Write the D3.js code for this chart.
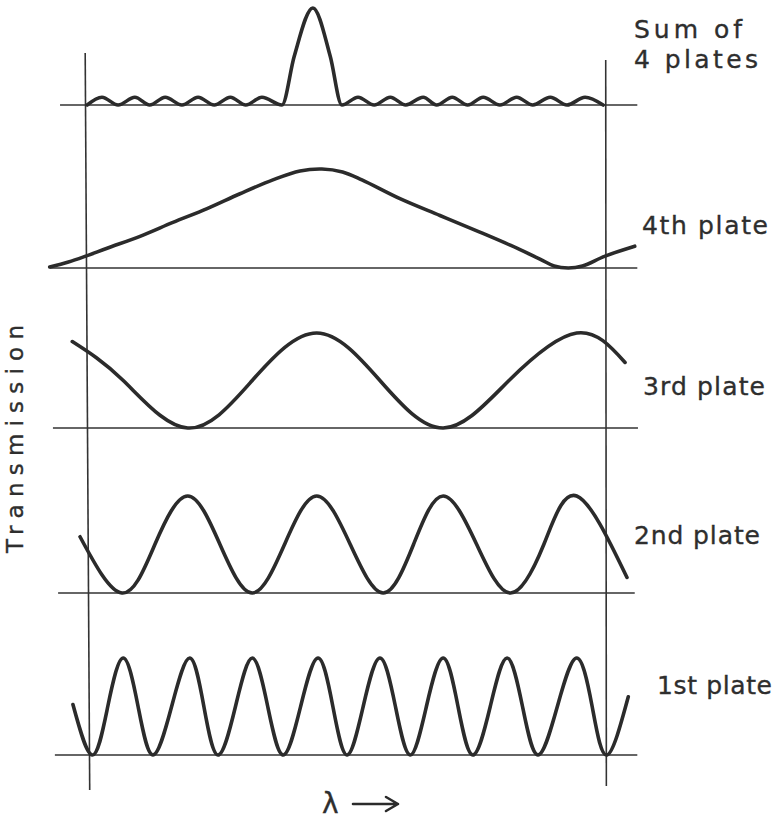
<!DOCTYPE html>
<html>
<head>
<meta charset="utf-8">
<script src="https://cdn.jsdelivr.net/npm/d3@7"></script>
<style>
  html, body { margin: 0; padding: 0; background: #ffffff; }
  svg { display: block; }
  text { font-family: "DejaVu Sans", "Noto Sans", sans-serif; fill: #2e2e2e; stroke: #2e2e2e; stroke-width: 0.35; }
</style>
</head>
<body>
<svg id="chart" width="784" height="823"></svg>
<script>
// ---------------- data (λ in units of the 1st-plate period, T = relative transmission) -------------
const panelNames = ["Sum of 4 plates", "4th plate", "3rd plate", "2nd plate", "1st plate"];
const yAxisLabel = "Transmission";
const xAxisLabel = "λ";

const sumOfPlates = [
  [-0.06, 0], [0.17, 0.08], [0.42, 0], [0.68, 0.08], [0.91, 0], [1.15, 0.08], [1.41, 0],
  [1.66, 0.08], [1.91, 0], [2.16, 0.08], [2.40, 0], [2.65, 0.08], [2.96, 0],
  [3.15, 0.5], [3.44, 1.0], [3.71, 0.5], [3.89, 0],
  [4.14, 0.08], [4.39, 0], [4.64, 0.08], [4.88, 0], [5.15, 0.08], [5.36, 0], [5.60, 0.08],
  [5.84, 0], [6.08, 0.08], [6.34, 0], [6.60, 0.08], [6.85, 0], [7.12, 0.08], [7.38, 0],
  [7.66, 0.08], [7.94, 0]
];

const plate4 = [
  [-0.64, 0.01], [-0.35, 0.06], [-0.08, 0.12], [0.25, 0.20], [0.76, 0.32], [1.27, 0.46],
  [1.80, 0.60], [2.31, 0.75], [2.82, 0.89], [3.24, 0.98], [3.58, 1.0], [3.90, 0.97],
  [4.20, 0.89], [4.79, 0.70], [5.41, 0.53], [6.00, 0.37], [6.50, 0.23], [6.96, 0.09],
  [7.18, 0.02], [7.40, 0.0], [7.62, 0.02], [7.97, 0.12], [8.43, 0.22]
];

const plate3 = [
  [-0.29, 0.91], [0.5, 0.5], [1.5, 0], [2.5, 0.5], [3.5, 1.0],
  [4.48, 0.5], [5.46, 0], [6.48, 0.5], [7.53, 1.0], [8.28, 0.69]
];

const plate2 = [
  [-0.17, 0.58], [0.48, 0], [0.99, 0.5], [1.5, 1.0], [2.0, 0.5], [2.5, 0],
  [3.0, 0.5], [3.5, 1.0], [4.02, 0.5], [4.53, 0], [5.0, 0.5], [5.46, 1.0], [5.98, 0.5],
  [6.5, 0], [7.02, 0.5], [7.53, 1.0], [8.31, 0.16]
];

const plate1 = [
  [-0.28, 0.52], [0.02, 0], [0.26, 0.5], [0.5, 1], [0.73, 0.5], [0.96, 0], [1.25, 0.5], [1.53, 1],
  [1.75, 0.5], [1.97, 0], [2.24, 0.5], [2.5, 1], [2.74, 0.5], [2.98, 0], [3.25, 0.5], [3.52, 1],
  [3.75, 0.5], [3.97, 0], [4.22, 0.5], [4.48, 1], [4.72, 0.5], [4.95, 0], [5.2, 0.5], [5.46, 1],
  [5.69, 0.5], [5.92, 0], [6.19, 0.5], [6.45, 1], [6.69, 0.5], [6.93, 0], [7.23, 0.5], [7.53, 1],
  [7.77, 0.5], [8.0, 0], [8.33, 0.6]
];

const seriesData = [sumOfPlates, plate4, plate3, plate2, plate1];

// ---------------- layout (positions / styles) ----------------
const layout = [
  { base: 105, h: 97, ext: [-0.48, 8.47], curve: d3.curveMonotoneX,
    label: [["Sum of", 634, 38, 108], ["4 plates", 634, 68, 124]] },
  { base: 268, h: 99, ext: [-0.64, 8.47], curve: d3.curveCatmullRom.alpha(0.5),
    label: [["4th plate", 642, 234, 126]] },
  { base: 428, h: 95, ext: [-0.59, 8.48], curve: d3.curveNatural,
    label: [["3rd plate", 643, 395, 122]] },
  { base: 593, h: 97, ext: [-0.51, 8.43], curve: d3.curveNatural,
    label: [["2nd plate", 634, 544, 126]] },
  { base: 755, h: 97, ext: [-0.56, 8.47], curve: d3.curveNatural,
    label: [["1st plate", 657, 694, 115]] }
];

const svg = d3.select("#chart");
const x = d3.scaleLinear().domain([0, 8]).range([91, 607]);
const ink = "#2b2b2b";

// vertical reference lines
const vLines = [
  { x1: -0.09, y1: 53, x2: -0.02, y2: 790 },
  { x1: 7.98, y1: 60, x2: 7.99, y2: 786 }
];
svg.selectAll("line.v").data(vLines).join("line")
  .attr("class", "v")
  .attr("x1", d => x(d.x1)).attr("x2", d => x(d.x2))
  .attr("y1", d => d.y1).attr("y2", d => d.y2)
  .attr("stroke", "#333").attr("stroke-width", 1.6);

seriesData.forEach((data, i) => {
  const L = layout[i];
  const y = d3.scaleLinear().domain([0, 1]).range([L.base, L.base - L.h]);
  const g = svg.append("g").attr("class", "panel");
  g.append("line")
    .attr("x1", x(L.ext[0])).attr("x2", x(L.ext[1]))
    .attr("y1", y(0)).attr("y2", y(0))
    .attr("stroke", "#333").attr("stroke-width", 1.6);
  const line = d3.line().x(d => x(d[0])).y(d => y(d[1])).curve(L.curve);
  g.append("path").datum(data)
    .attr("d", line)
    .attr("fill", "none")
    .attr("stroke", ink)
    .attr("stroke-width", 3.6)
    .attr("stroke-linecap", "round")
    .attr("stroke-linejoin", "round");
  L.label.forEach(([t, lx, ly, w]) => {
    g.append("text")
      .attr("x", lx).attr("y", ly)
      .attr("font-size", 25)
      .attr("textLength", w)
      .attr("lengthAdjust", "spacing")
      .text(t);
  });
});

// y axis label
svg.append("text")
  .attr("transform", "translate(23,439) rotate(-90)")
  .attr("text-anchor", "middle")
  .attr("font-size", 23)
  .attr("textLength", 228)
  .attr("lengthAdjust", "spacing")
  .text(yAxisLabel);

// x axis label with arrow
svg.append("text")
  .attr("x", 322).attr("y", 813)
  .attr("font-size", 28)
  .text(xAxisLabel);
svg.append("path")
  .attr("d", "M353,804 L398,804 M386,797 L398,804 L386,811")
  .attr("fill", "none").attr("stroke", ink).attr("stroke-width", 2.6)
  .attr("stroke-linecap", "round").attr("stroke-linejoin", "round");
</script>
</body>
</html>
